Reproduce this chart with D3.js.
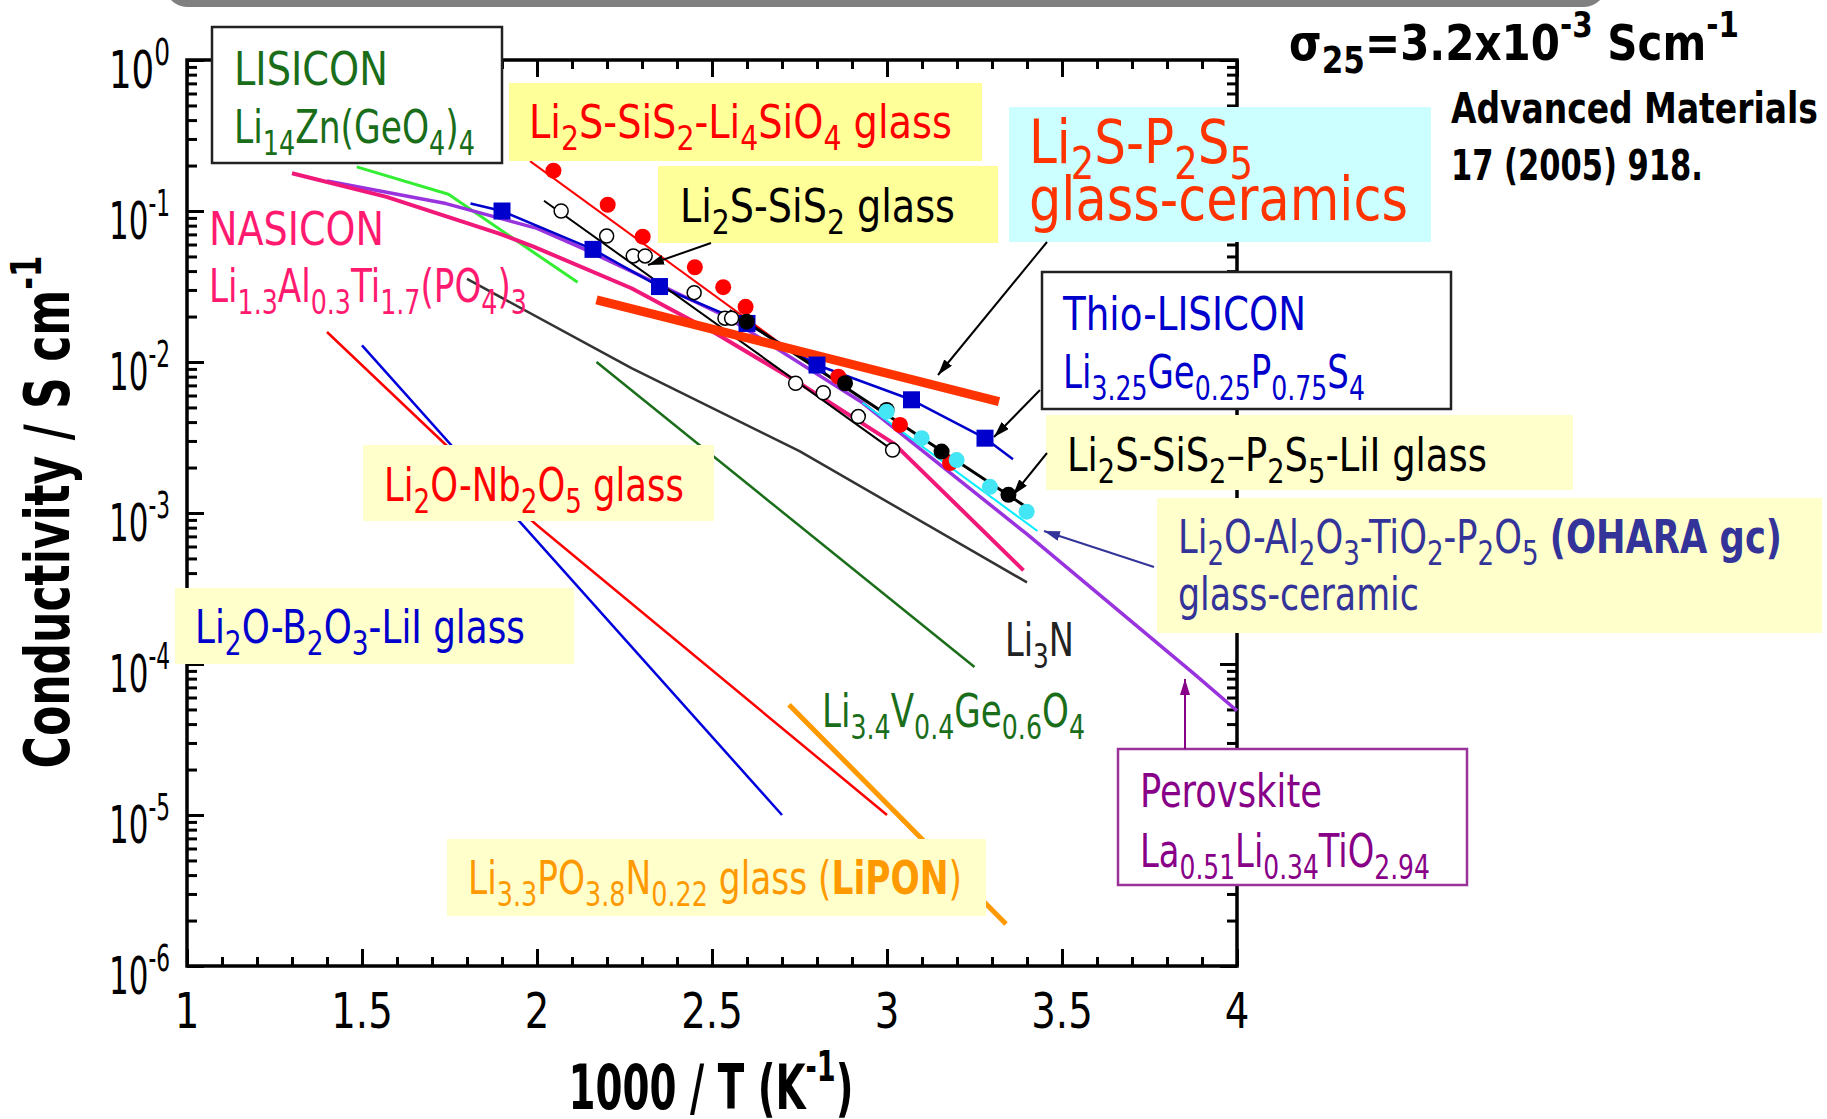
<!DOCTYPE html>
<html>
<head>
<meta charset="utf-8">
<script src="https://cdn.jsdelivr.net/npm/d3@7"></script>
<style>
body { margin: 0; background: #fff; }
svg text { font-family: 'Liberation Sans Narrow', 'DejaVu Sans Condensed', 'Liberation Sans', sans-serif; white-space: pre; }
</style>
</head>
<body>
<svg id="chart" width="1827" height="1119"></svg>
<script>
// values: [1000/T (K^-1), conductivity (S cm^-1)]
const lisicon = [[1.485, 0.196], [1.747, 0.129], [2.116, 0.0337]];
const nasicon = [[1.30, 0.178], [1.57, 0.124], [1.89, 0.0711], [1.99, 0.0581], [2.27, 0.0308],
    [2.51, 0.0155], [2.75, 0.00724], [3.02, 0.00288], [3.39, 0.000417]];
const perovskite = [[1.40, 0.158], [1.74, 0.112], [2.00, 0.0767], [2.14, 0.0552], [2.27, 0.0398],
    [2.54, 0.0200], [2.93, 0.00537], [3.40, 0.000724], [3.88, 0.000085], [4.0, 0.000049]];
const thioLine = [[1.81, 0.112], [1.90, 0.100], [2.16, 0.0557], [2.35, 0.0316], [2.60, 0.0180],
    [2.80, 0.00955], [3.07, 0.00562], [3.28, 0.00313], [3.36, 0.00227]];
const thioPts = [[1.90, 0.100], [2.16, 0.0557], [2.35, 0.0316], [2.60, 0.0180],
    [2.80, 0.00955], [3.07, 0.00562], [3.28, 0.00313]];
const li4sio4Line = [[1.98, 0.214], [2.68, 0.0141]];
const li4sio4Pts = [[2.047, 0.185], [2.202, 0.110], [2.302, 0.0676], [2.451, 0.0424], [2.532, 0.0313],
    [2.596, 0.0232], [2.861, 0.0080], [3.037, 0.00383], [3.18, 0.00214]];
const sis2Line = [[2.02, 0.117], [3.02, 0.00257]];
const sis2Pts = [[2.069, 0.100], [2.199, 0.0682], [2.275, 0.0504], [2.309, 0.0504], [2.449, 0.0288],
    [2.537, 0.0195], [2.556, 0.0195], [2.739, 0.00723], [2.818, 0.00626], [2.918, 0.00435], [3.016, 0.00261]];
const liiLine = [[2.55, 0.0219], [3.41, 0.00105]];
const liiPts = [[2.599, 0.0185], [2.88, 0.00723], [2.999, 0.00481], [3.156, 0.00255], [3.347, 0.00132]];
const oharaLine = [[2.93, 0.00537], [3.43, 0.00076]];
const oharaPts = [[2.999, 0.00469], [3.099, 0.00313], [3.199, 0.00224], [3.294, 0.00149], [3.399, 0.00102]];
const p2s5gc = [[2.17, 0.0258], [3.32, 0.00546]];
const li3n = [[1.80, 0.0355], [2.27, 0.00912], [2.75, 0.00257], [3.40, 0.000347]];
const livgeo = [[2.17, 0.0100], [3.25, 0.0000955]];
const nb2o5 = [[1.40, 0.0158], [1.74, 0.00282], [2.0, 0.00083], [3.0, 0.00001]];
const b2o3 = [[1.50, 0.0129], [2.70, 0.00001]];
const lipon = [[2.72, 0.0000537], [3.34, 0.0000019]];

const xMajor = [1, 1.5, 2, 2.5, 3, 3.5, 4];
const xMinor = d3.range(1, 4.001, 0.1).filter(v => Math.abs(v * 2 - Math.round(v * 2)) > 1e-6);
const yExp = [0, -1, -2, -3, -4, -5, -6];
const yMajor = yExp.map(e => Math.pow(10, e));
const yMinor = [];
for (let e = -6; e < 0; e++) {
    for (let m = 2; m < 10; m++) yMinor.push(m * Math.pow(10, e));
}

const svg = d3.select('#chart');
const pLeft = 187, pRight = 1237, pTop = 60, pBottom = 966;
const x = d3.scaleLinear().domain([1, 4]).range([pLeft, pRight]);
const y = d3.scaleLog().domain([1e-6, 1]).range([pBottom, pTop]);

// grey bar at the top edge
svg.append('rect').attr('x', 165).attr('y', -40).attr('width', 1441).attr('height', 47)
    .attr('rx', 22).attr('fill', '#808080');

const defs = svg.append('defs');
const addMarker = (id, col) => {
    defs.append('marker').attr('id', id).attr('viewBox', '0 -5 16 10')
        .attr('refX', 16).attr('refY', 0).attr('markerWidth', 16).attr('markerHeight', 10)
        .attr('markerUnits', 'userSpaceOnUse').attr('orient', 'auto')
        .append('path').attr('d', 'M0,-5L16,0L0,5Z').attr('fill', col);
};
addMarker('arBlack', '#000');
addMarker('arNavy', '#333399');
addMarker('arPurple', '#880088');

// ticks (all pointing inside)
const ticks = (gen, vals, size, tr) => {
    const g = svg.append('g').attr('transform', tr)
        .call(gen.tickValues(vals).tickSize(size).tickSizeOuter(0).tickFormat(''));
    g.select('.domain').remove();
    g.selectAll('line').attr('stroke', '#000').attr('stroke-width', 3);
};
ticks(d3.axisBottom(x), xMinor, -9, `translate(0,${pBottom})`);
ticks(d3.axisBottom(x), xMajor, -17, `translate(0,${pBottom})`);
ticks(d3.axisTop(x), xMinor, -9, `translate(0,${pTop})`);
ticks(d3.axisTop(x), xMajor, -17, `translate(0,${pTop})`);
ticks(d3.axisLeft(y), yMinor, -10, `translate(${pLeft},0)`);
ticks(d3.axisLeft(y), yMajor, -17, `translate(${pLeft},0)`);
ticks(d3.axisRight(y), yMinor, -10, `translate(${pRight},0)`);
ticks(d3.axisRight(y), yMajor, -17, `translate(${pRight},0)`);

svg.append('rect').attr('x', pLeft).attr('y', pTop).attr('width', pRight - pLeft).attr('height', pBottom - pTop)
    .attr('fill', 'none').attr('stroke', '#000').attr('stroke-width', 3.5);

// text with _{sub}, ^{sup} and *{bold} pieces
const label = (g, lx, ly, str, o) => {
    const fs = o.size || 46;
    const t = g.append('text').attr('x', lx).attr('y', ly)
        .attr('font-size', fs).attr('fill', o.color || '#000')
        .attr('font-weight', o.weight || 'normal')
        .attr('text-anchor', o.anchor || 'start');
    const re = /([_^*])\{([^}]*)\}/g;
    let last = 0, shift = 0, m;
    const add = (txt, kind) => {
        if (!txt) return;
        const s = t.append('tspan').text(txt);
        let target = 0;
        if (kind === '_') {
            target = fs * 0.27;
            s.attr('font-size', fs * 0.74);
        } else if (kind === '^') {
            target = -fs * 0.45;
            s.attr('font-size', fs * 0.7);
        } else if (kind === '*') {
            s.attr('font-weight', 'bold');
        }
        s.attr('dy', target - shift);
        shift = target;
    };
    while ((m = re.exec(str)) !== null) {
        add(str.slice(last, m.index), '');
        add(m[2], m[1]);
        last = re.lastIndex;
    }
    add(str.slice(last), '');
    let sx = o.sx || 1;
    if (o.width) sx = o.width / t.node().getBBox().width;
    t.attr('transform', `translate(${lx},0) scale(${sx},1) translate(${-lx},0)`);
    return t;
};

// tick labels
xMajor.forEach(v => {
    label(svg, x(v), 1028, String(v), {size: 50, anchor: 'middle', sx: 0.86});
});
yExp.forEach((e, i) => {
    label(svg, 170, y(yMajor[i]) + 28, '10^{' + (e === 0 ? '0' : String(e)) + '}',
        {size: 52, anchor: 'end', width: 61});
});

// axis titles
label(svg, 711, 1109, '1000 / T (K^{-1})', {size: 62, weight: 'bold', anchor: 'middle', width: 285});
const yt = svg.append('g').attr('transform', 'translate(69,512) rotate(-90)');
label(yt, 0, 0, 'Conductivity / S cm^{-1}', {size: 62, weight: 'bold', anchor: 'middle', width: 513});

// series
const line = d3.line().x(d => x(d[0])).y(d => y(d[1]));
const plot = svg.append('g');
const path = (data, col, w) => {
    plot.append('path').datum(data).attr('d', line).attr('fill', 'none')
        .attr('stroke', col).attr('stroke-width', w)
        .attr('stroke-linejoin', 'round');
};
path(li3n, '#333333', 2.5);
path(livgeo, '#1a6e1a', 2.5);
path(nb2o5, '#ff0000', 2.5);
path(b2o3, '#0000dd', 2.5);
path(lipon, '#ff9900', 5);
path(lisicon, '#33ee33', 3);
path(perovskite, '#9933dd', 3.5);
path(nasicon, '#f0197a', 4);
path(thioLine, '#0000cc', 2.5);
path(li4sio4Line, '#ff0000', 2);
path(sis2Line, '#000000', 2);
path(liiLine, '#000000', 3);
path(oharaLine, '#00eeff', 2);
path(p2s5gc, '#ff3300', 9);

plot.selectAll('.sq').data(thioPts).join('rect')
    .attr('x', d => x(d[0]) - 8.5).attr('y', d => y(d[1]) - 8.5)
    .attr('width', 17).attr('height', 17).attr('fill', '#0000cc');
const dots = (data, fill, stroke, r) => {
    plot.append('g').selectAll('circle').data(data).join('circle')
        .attr('cx', d => x(d[0])).attr('cy', d => y(d[1])).attr('r', r)
        .attr('fill', fill).attr('stroke', stroke).attr('stroke-width', 1.5);
};
dots(li4sio4Pts, '#ff0000', 'none', 8);
dots(sis2Pts, '#ffffff', '#000000', 7);
dots(liiPts, '#000000', 'none', 8);
dots(oharaPts, '#44e6f5', 'none', 8);

// annotation boxes
const ann = svg.append('g');
const box = (x0, y0, x1, y1, fill, stroke) => {
    ann.append('rect').attr('x', x0).attr('y', y0).attr('width', x1 - x0).attr('height', y1 - y0)
        .attr('fill', fill).attr('stroke', stroke || 'none').attr('stroke-width', 2.5);
};
box(212, 27, 502, 163, '#ffffff', '#222222');
box(509, 83, 982, 161, '#ffff99');
box(658, 166, 998, 243, '#ffff99');
box(1009, 107, 1431, 242, '#ccffff');
box(1042, 272, 1451, 409, '#ffffff', '#222222');
box(1046, 415, 1573, 490, '#ffffcc');
box(1157, 498, 1822, 633, '#ffffcc');
box(1118, 749, 1467, 885, '#ffffff', '#993399');
box(363, 445, 714, 521, '#ffffcc');
box(175, 588, 574, 664, '#ffffcc');
box(447, 839, 986, 916, '#ffffcc');

const green = '#1a6e1a';
label(ann, 234, 85, 'LISICON', {color: green, width: 154});
label(ann, 234, 143, 'Li_{14}Zn(GeO_{4})_{4}', {color: green, width: 241});
label(ann, 529, 138, 'Li_{2}S-SiS_{2}-Li_{4}SiO_{4} glass', {color: '#ff0000', width: 423});
label(ann, 680, 222, 'Li_{2}S-SiS_{2} glass', {width: 275});
label(ann, 1029, 163, 'Li_{2}S-P_{2}S_{5}', {size: 60, color: '#ff3300', width: 224});
label(ann, 1029, 220, 'glass-ceramics', {size: 60, color: '#ff3300', width: 379});
label(ann, 1289, 60, 'σ_{25}=3.2x10^{-3} Scm^{-1}', {size: 50, weight: 'bold', width: 450});
label(ann, 1451, 123, 'Advanced Materials', {size: 42, weight: 'bold', width: 367});
label(ann, 1451, 180, '17 (2005) 918.', {size: 42, weight: 'bold', width: 252});
label(ann, 1063, 330, 'Thio-LISICON', {color: '#0000cc', width: 244});
label(ann, 1063, 388, 'Li_{3.25}Ge_{0.25}P_{0.75}S_{4}', {color: '#0000cc', width: 302});
label(ann, 1067, 471, 'Li_{2}S-SiS_{2}–P_{2}S_{5}-LiI glass', {width: 420});
label(ann, 1178, 553, 'Li_{2}O-Al_{2}O_{3}-TiO_{2}-P_{2}O_{5} *{(OHARA gc)}', {color: '#333399', width: 604});
label(ann, 1178, 610, 'glass-ceramic', {color: '#333399', width: 241});
label(ann, 1005, 656, 'Li_{3}N', {color: '#222222', width: 69});
label(ann, 822, 727, 'Li_{3.4}V_{0.4}Ge_{0.6}O_{4}', {color: green, width: 263});
label(ann, 1140, 807, 'Perovskite', {color: '#880088', width: 182});
label(ann, 1140, 867, 'La_{0.51}Li_{0.34}TiO_{2.94}', {color: '#880088', width: 290});
label(ann, 209, 245, 'NASICON', {color: '#ff1a70', width: 175});
label(ann, 209, 302, 'Li_{1.3}Al_{0.3}Ti_{1.7}(PO_{4})_{3}', {color: '#ff1a70', width: 318});
label(ann, 384, 501, 'Li_{2}O-Nb_{2}O_{5} glass', {color: '#ff0000', width: 300});
label(ann, 195, 643, 'Li_{2}O-B_{2}O_{3}-LiI glass', {color: '#0000cc', width: 330});
label(ann, 468, 894, 'Li_{3.3}PO_{3.8}N_{0.22} glass (*{LiPON})', {color: '#ff9900', width: 494});

// arrows
const arrow = (x0, y0, x1, y1, col, id) => {
    ann.append('line').attr('x1', x0).attr('y1', y0).attr('x2', x1).attr('y2', y1)
        .attr('stroke', col).attr('stroke-width', 2).attr('marker-end', `url(#${id})`);
};
arrow(711, 243, 648, 265, '#000', 'arBlack');
arrow(1047, 242, 938, 375, '#000', 'arBlack');
arrow(1040, 390, 994, 437, '#000', 'arBlack');
arrow(1047, 453, 1013, 495, '#000', 'arBlack');
arrow(1154, 567, 1044, 531, '#333399', 'arNavy');
arrow(1185, 749, 1185, 679, '#880088', 'arPurple');
</script>
</body>
</html>
